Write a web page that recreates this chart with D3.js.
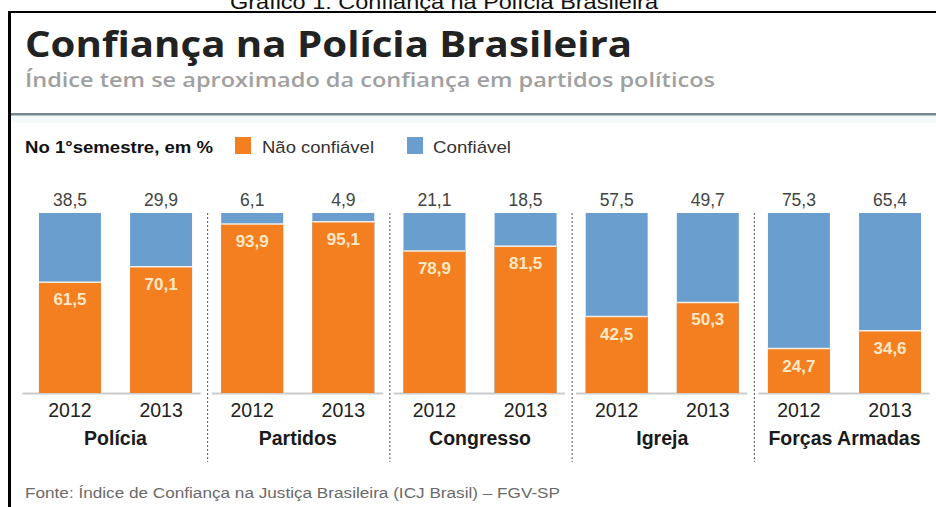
<!DOCTYPE html>
<html>
<head>
<meta charset="utf-8">
<script src="https://cdn.jsdelivr.net/npm/d3@7"></script>
<style>
body { margin: 0; background: #fff; }
svg { display: block; }
</style>
</head>
<body>
<script>
var groups = ["Polícia", "Partidos", "Congresso", "Igreja", "Forças Armadas"];
var years = ["2012", "2013"];
// Não confiável, por grupo e ano
var naoConfiavel = [[61.5, 70.1], [93.9, 95.1], [78.9, 81.5], [42.5, 50.3], [24.7, 34.6]];
// Confiável
var confiavel = [[38.5, 29.9], [6.1, 4.9], [21.1, 18.5], [57.5, 49.7], [75.3, 65.4]];

var orange = "#f47f20", blue = "#6a9ecf";

var svg = d3.select("body").append("svg").attr("width", 936).attr("height", 507);

var fmt = function(v){ return d3.format(".1f")(v).replace(".", ","); };

// caption + frame
svg.append("text").attr("x", 230).attr("y", 9)
.attr("font-family", "Liberation Sans, Arial").attr("font-size", 20).attr("fill", "#111")
.attr("textLength", 428).attr("lengthAdjust", "spacingAndGlyphs")
.text("Gráfico 1: Confiança na Polícia Brasileira");

svg.append("rect").attr("x", 8).attr("y", 11).attr("width", 928).attr("height", 2).attr("fill", "#000");
svg.append("rect").attr("x", 8).attr("y", 11).attr("width", 3).attr("height", 496).attr("fill", "#000");

svg.append("text").attr("x", 25).attr("y", 57)
.attr("font-family", "Open Sans").attr("font-weight", 700).attr("font-size", 35).attr("fill", "#222")
.attr("textLength", 607).attr("lengthAdjust", "spacingAndGlyphs")
.text("Confiança na Polícia Brasileira");

svg.append("text").attr("x", 25).attr("y", 87)
.attr("font-family", "Open Sans").attr("font-weight", 600).attr("font-size", 20).attr("fill", "#a0a0a0")
.attr("textLength", 690).attr("lengthAdjust", "spacingAndGlyphs")
.text("Índice tem se aproximado da confiança em partidos políticos");

svg.append("rect").attr("x", 11).attr("y", 115).attr("width", 925).attr("height", 8).attr("fill", "#f4fafa");
svg.append("rect").attr("x", 11).attr("y", 113).attr("width", 925).attr("height", 2.5).attr("fill", "#75878d");

// legend
var leg = svg.append("g").attr("font-family", "Liberation Sans, Arial").attr("font-size", 17);
leg.append("text").attr("x", 25).attr("y", 153).attr("font-weight", "bold").attr("fill", "#111")
.attr("textLength", 188).attr("lengthAdjust", "spacingAndGlyphs").text("No 1°semestre, em %");
leg.append("rect").attr("x", 235).attr("y", 137).attr("width", 16).attr("height", 17).attr("fill", orange);
leg.append("text").attr("x", 262).attr("y", 153).attr("fill", "#333")
.attr("textLength", 112).attr("lengthAdjust", "spacingAndGlyphs").text("Não confiável");
leg.append("rect").attr("x", 407).attr("y", 137).attr("width", 16).attr("height", 17).attr("fill", blue);
leg.append("text").attr("x", 433).attr("y", 153).attr("fill", "#333")
.attr("textLength", 78).attr("lengthAdjust", "spacingAndGlyphs").text("Confiável");

// scales
var x0 = d3.scaleBand().domain(groups).range([24.4, 935.6]);
var x1 = d3.scaleBand().domain(years).range([0, x0.bandwidth()]).paddingInner(0.32).paddingOuter(0.16);
var y = d3.scaleLinear().domain([0, 100]).range([393, 213]);

var g = svg.selectAll("g.grp").data(groups).enter().append("g")
.attr("class", "grp")
.attr("transform", function(d){ return "translate(" + x0(d) + ",0)"; });

// baseline segments
g.append("line")
.attr("x1", function(d, i){ return i == 0 ? -2 : 5; })
.attr("x2", x0.bandwidth() - 6)
.attr("y1", y(0) + 0.5).attr("y2", y(0) + 0.5)
.attr("stroke", "#cccccc").attr("stroke-width", 2);

var bars = g.selectAll("g.bar").data(function(d, i){
  return years.map(function(yr, j){ return {yr: yr, nao: naoConfiavel[i][j], conf: confiavel[i][j]}; });
}).enter().append("g").attr("class", "bar")
.attr("transform", function(d){ return "translate(" + x1(d.yr) + ",0)"; });

bars.append("rect")
.attr("x", 0).attr("width", x1.bandwidth())
.attr("y", y(100)).attr("height", y(0) - y(100))
.attr("fill", blue);

bars.append("rect")
.attr("x", 0).attr("width", x1.bandwidth())
.attr("y", function(d){ return y(d.nao); })
.attr("height", function(d){ return y(0) - y(d.nao); })
.attr("fill", orange);

bars.append("line")
.attr("x1", 0).attr("x2", x1.bandwidth())
.attr("y1", function(d){ return y(d.nao); }).attr("y2", function(d){ return y(d.nao); })
.attr("stroke", "#f3efe2").attr("stroke-width", 1.5);

bars.append("text")
.attr("x", x1.bandwidth() / 2).attr("y", y(100) - 7)
.attr("text-anchor", "middle")
.attr("font-family", "Liberation Sans, Arial").attr("font-size", 17.5).attr("fill", "#444")
.text(function(d){ return fmt(d.conf); });

bars.append("text")
.attr("x", x1.bandwidth() / 2).attr("y", function(d){ return y(d.nao) + 23; })
.attr("text-anchor", "middle")
.attr("font-family", "Liberation Sans, Arial").attr("font-weight", "bold").attr("font-size", 17).attr("fill", "#fde8c6")
.text(function(d){ return fmt(d.nao); });

bars.append("text")
.attr("x", x1.bandwidth() / 2).attr("y", 417)
.attr("text-anchor", "middle")
.attr("font-family", "Liberation Sans, Arial").attr("font-size", 19.5).attr("fill", "#222")
.text(function(d){ return d.yr; });

g.append("text")
.attr("x", x0.bandwidth() / 2).attr("y", 445)
.attr("text-anchor", "middle")
.attr("font-family", "Liberation Sans, Arial").attr("font-weight", "bold").attr("font-size", 19.5).attr("fill", "#1a1a1a")
.text(function(d){ return d; });

// dotted separators
svg.selectAll("line.sep").data(groups.slice(1)).enter().append("line")
.attr("class", "sep")
.attr("x1", function(d){ return x0(d) + 1; }).attr("x2", function(d){ return x0(d) + 1; })
.attr("y1", 213).attr("y2", 462)
.attr("stroke", "#555").attr("stroke-width", 1).attr("stroke-dasharray", "2,2");

svg.append("text").attr("x", 25).attr("y", 498)
.attr("font-family", "Liberation Sans, Arial").attr("font-size", 14).attr("fill", "#6a6a6a")
.attr("textLength", 535).attr("lengthAdjust", "spacingAndGlyphs")
.text("Fonte: Índice de Confiança na Justiça Brasileira (ICJ Brasil) – FGV-SP");
</script>
</body>
</html>
